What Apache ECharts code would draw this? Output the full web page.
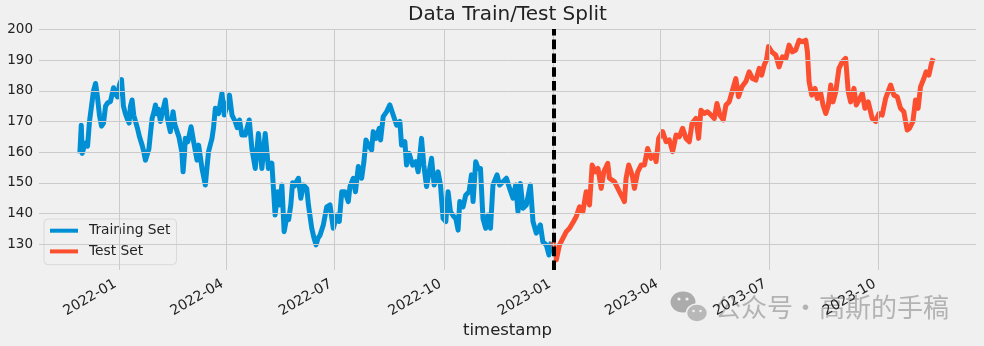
<!DOCTYPE html>
<html><head><meta charset="utf-8">
<script src="https://cdn.jsdelivr.net/npm/echarts@6/dist/echarts.min.js"></script>
<style>html,body{margin:0;padding:0;background:#f0f0f0}#c{width:984px;height:346px}</style>
</head><body><div id="c"></div>
<script>
// days since 2022-01-01
const trainDays = [-32.7,-31.5,-30.7,-29.3,-27.9,-26.2,-24.6,-22.9,-21.2,-19.5,-17.9,-16.2,-14.5,-12.8,-11.1,-9.5,-7.0,-4.4,-2.8,-1.1,0.6,2.3,3.9,5.6,7.0,8.7,9.8,11.2,12.6,14.0,15.7,17.4,19.6,21.1,22.4,23.8,25.3,26.6,28.0,29.5,30.8,32.0,33.3,35.0,36.6,39.1,40.8,43.3,45.6,47.1,49.0,50.5,51.7,53.0,54.0,55.1,55.9,58.0,60.7,62.9,65.7,67.1,69.9,72.7,74.1,75.4,78.3,79.6,81.1,83.8,86.7,88.6,90.9,93.0,95.1,97.8,99.5,101.4,103.4,106.2,109.6,111.8,114.6,117.3,120.2,123.0,125.7,128.6,130.1,131.3,133.6,135.1,137.0,138.9,141.2,142.7,144.5,146.0,147.7,149.4,150.9,152.9,155.1,157.9,159.3,162.1,164.0,165.7,167.4,169.1,171.8,174.7,177.4,180.2,183.1,185.2,187.3,190.0,192.8,194.2,197.0,198.8,201.2,204.0,205.9,207.6,209.6,212.4,213.7,216.0,218.8,219.9,222.1,225.0,227.7,230.5,233.4,236.1,237.5,240.3,241.7,243.9,246.8,249.5,251.5,254.3,256.2,258.5,260.7,262.7,264.9,268.2,270.2,272.4,274.7,276.6,278.6,281.4,283.1,285.0,286.4,289.2,291.4,294.2,296.2,297.6,299.8,301.8,303.8,305.9,308.2,310.1,312.2,314.3,317.7,319.9,322.7,325.6,328.3,331.1,333.4,335.3,337.3,339.5,342.3,345.7,347.9,350.7,354.1,356.2,359.1,361.3,363.3];
const trainValues = [159.6,168.8,159.6,161.5,163,162,170,175,180,182.4,178,172,168.5,169.5,175,176,176.5,181,179,178,182,183.7,175,172.5,171,169.5,175,177,172,172,167.8,165,162.3,160,157.4,158,161,166,171,173,175.4,172.5,174,170,173,177,171,166.7,173.2,169,166.7,165,164.5,160,153.6,159,164.5,163.4,168.3,163.4,157.4,162.3,154.7,149.3,155,160.2,164.5,168,174.3,172.6,179.2,172.1,175,178.6,172.1,170,168,170.5,165.6,165.6,170.5,161.2,154.7,166.1,154.7,166.1,154.7,156.4,147,139.5,147.1,142.8,149.3,134.1,139,138,142.8,150,149,150.5,151.5,145,149.3,148.2,142.8,135.2,132,129.8,132,133,136.3,142.2,142.8,135.2,139.5,137.4,147.1,147.1,143.9,148.8,151.5,147.1,155.3,151.5,156.9,164,162.3,160.7,166.7,164.5,167.8,164,171.6,173.2,175.4,172.1,168.8,170,162.3,163.4,155.8,159.6,155.8,156.9,153.6,164.5,155.8,148.8,153.6,158,149.3,153.6,149.3,138.4,137.4,147.1,140.6,139,138.4,134.6,143.9,142.2,146,147.1,152.6,143.9,156.9,154.7,154.7,138.4,135.2,139.5,135.2,149.3,152.6,149.3,150.4,151.5,148.2,145,149.3,140.6,149.8,141.7,142.8,149.3,137.4,133.6,136.3,130.8,129.8,126.5,130.8];
const testDays = [364.6,365.2,367.5,370.2,373.0,375.9,378.6,382.0,384.2,387.0,389.8,392.6,395.4,397.6,400.4,402.5,405.2,407.4,410.7,412.1,416.3,420.5,423.3,424.7,426.1,428.3,431.2,433.1,435.9,438.7,441.5,444.2,447.1,449.9,451.3,453.5,456.8,459.7,462.4,465.2,468.1,470.8,473.6,476.4,479.2,481.5,484.8,487.0,489.0,491.8,494.5,497.4,500.2,502.4,504.9,507.7,510.0,512.7,515.5,518.3,520.5,523.4,526.7,529.5,532.3,535.1,537.9,540.0,542.1,544.0,545.7,548.5,551.9,554.6,557.4,560.3,563.0,565.8,568.6,571.4,574.2,577.0,578.4,579.8,582.0,584.8,586.7,589.6,591.5,593.8,596.0,598.0,599.9,602.2,604.9,607.7,610.5,612.7,614.7,617.5,619.4,621.7,624.5,626.7,629.5,632.8,635.7,638.5,641.2,644.1,648.3,651.0,653.8,656.6,659.4,662.2,664.2,667.0,669.2,671.4,673.4,676.2,678.1,680.4,682.6,684.0];
const testValues = [130.8,129.8,124.9,129.8,131.9,134.1,135.2,137.4,139,142.2,140.6,147.1,142.8,155.8,153.6,154.7,148.2,153.6,156.4,151.5,150.4,147.1,145,143.9,151.5,155.8,152.6,148.2,153.6,155.8,155.8,161.2,158,159.1,156.9,164.5,166.7,163.4,164,160.2,165.6,165,167.8,164.5,163.4,169.4,171,164.5,173.7,172.6,173.2,172.1,171,175.9,172.1,170.5,175.4,176.4,180.2,184,178.1,181.3,183,186.2,184,183.5,187.3,185.1,188.4,190,194.4,192.7,191.6,187.8,191.1,190.6,194.9,192.7,193.3,196.5,196,196.5,192.7,183,178.6,180.8,177.5,179.2,175.4,172.6,175.4,181.9,176.4,179.7,187.3,189.5,190.6,179.7,176.4,180.8,175.4,177,179.2,174.3,176.4,171,170,172.6,172.1,177.5,181.9,178.6,178.1,174.3,173.2,167.2,167.8,170,177,174.3,181.3,184,186.2,185.1,188.9,190.6];
const xTickLabels = ['2022-01','2022-04','2022-07','2022-10','2023-01','2023-04','2023-07','2023-10'];
const yTickValues = [130,140,150,160,170,180,190,200];
const seriesNames = ['Training Set','Test Set'];
const splitDate = '2023-01-01';

const DAY = 86400000, BASE = Date.UTC(2022,0,1);
const toTs = d => BASE + d * DAY;
const ym = s => Date.UTC(+s.slice(0,4), +s.slice(5,7) - 1, 1);
const xTicks = xTickLabels.map(ym);
const splitTs = Date.UTC(+splitDate.slice(0,4), +splitDate.slice(5,7) - 1, +splitDate.slice(8,10));
const fmt = v => { const d = new Date(v); return d.getUTCFullYear() + '-' + String(d.getUTCMonth() + 1).padStart(2, '0'); };
const FONT = 'DejaVu Sans';
const GRID = '#cbcbcb';

const chart = echarts.init(document.getElementById('c'), null, {renderer: 'canvas'});
chart.setOption({
  backgroundColor: '#f0f0f0',
  animation: false,
  textStyle: {fontFamily: FONT},
  grid: {left: 39, right: 8, top: 29, bottom: 76, containLabel: false, outerBoundsMode: 'none'},
  legend: {
    left: 44, top: 219, orient: 'vertical',
    itemWidth: 28, itemHeight: 4, itemGap: 4.7,
    padding: [3.7, 6, 5.3, 6],
    backgroundColor: 'rgba(240,240,240,0.8)', borderColor: '#d9d9d9', borderWidth: 1, borderRadius: 4,
    textStyle: {fontFamily: FONT, fontSize: 13.8, color: '#222', lineHeight: 16, padding: [0, 0, 0, 6]},
    data: [{name: seriesNames[0], icon: 'rect'}, {name: seriesNames[1], icon: 'rect'}]
  },
  xAxis: {
    type: 'value',
    min: Date.UTC(2021, 9, 26), max: Date.UTC(2023, 11, 22),
    axisLine: {show: false},
    axisTick: {show: false, customValues: xTicks},
    axisLabel: {customValues: xTicks, formatter: fmt, rotate: 30, margin: 11, padding: [0, 4, 0, 0], fontSize: 14, color: '#222', fontFamily: FONT},
    splitLine: {show: false}
  },
  yAxis: {
    type: 'value',
    min: 121.6, max: 200.15,
    axisLine: {show: false},
    axisTick: {show: false, customValues: yTickValues},
    axisLabel: {customValues: yTickValues, margin: 6, fontSize: 13.5, color: '#222', fontFamily: FONT},
    splitLine: {show: false}
  },
  graphic: [
    {type: 'text', x: 507.5, y: 14.8, z: 10, style: {text: 'Data Train/Test Split', font: '20px "DejaVu Sans"', fill: '#222', textAlign: 'center', textVerticalAlign: 'middle'}},
    {type: 'text', x: 507.5, y: 330.5, z: 10, style: {text: 'timestamp', font: '16.5px "DejaVu Sans"', fill: '#222', textAlign: 'center', textVerticalAlign: 'middle'}},
    {type: 'ellipse', z: -1, shape: {cx: 683, cy: 302, rx: 12.5, ry: 10.5}, style: {fill: '#ababab'}},
    {type: 'ellipse', z: -1, shape: {cx: 697, cy: 313, rx: 10.5, ry: 9}, style: {fill: '#b8b8b8', stroke: '#f0f0f0', lineWidth: 1.5}},
    {type: 'circle', z: -1, shape: {cx: 679, cy: 299, r: 1.6}, style: {fill: '#f0f0f0'}},
    {type: 'circle', z: -1, shape: {cx: 687, cy: 299, r: 1.6}, style: {fill: '#f0f0f0'}},
    {type: 'circle', z: -1, shape: {cx: 693.5, cy: 311, r: 1.3}, style: {fill: '#f0f0f0'}},
    {type: 'circle', z: -1, shape: {cx: 700.5, cy: 311, r: 1.3}, style: {fill: '#f0f0f0'}},
    {type: 'text', x: 715, y: 307, z: -1, style: {text: '公众号', font: '26px "Noto Sans CJK SC"', fill: '#b3b3b3', textAlign: 'left', textVerticalAlign: 'middle'}},
    {type: 'text', x: 805.5, y: 307, z: -1, style: {text: '·', font: '26px "Noto Sans CJK SC"', fill: '#b3b3b3', textAlign: 'center', textVerticalAlign: 'middle'}},
    {type: 'text', x: 819, y: 307, z: -1, style: {text: '高斯的手稿', font: '26px "Noto Sans CJK SC"', fill: '#b3b3b3', textAlign: 'left', textVerticalAlign: 'middle'}}
  ],
  series: [
    {
      name: '__grid', type: 'line', data: [], z: 1, silent: true,
      markLine: {
        silent: true, symbol: ['none', 'none'], label: {show: false}, animation: false,
        lineStyle: {color: GRID, width: 1, type: 'solid'},
        data: yTickValues.map(v => ({yAxis: v})).concat(xTicks.map(v => ({xAxis: v})))
      }
    },
    {
      name: seriesNames[0], type: 'line', symbol: 'none', showSymbol: false, z: 3,
      itemStyle: {color: '#008fd5'},
      lineStyle: {color: '#008fd5', width: 5, join: 'round'},
      data: trainDays.map((d, i) => [toTs(d), trainValues[i]])
    },
    {
      name: seriesNames[1], type: 'line', symbol: 'none', showSymbol: false, z: 4,
      itemStyle: {color: '#fc4f30'},
      lineStyle: {color: '#fc4f30', width: 5, join: 'round'},
      data: testDays.map((d, i) => [toTs(d), testValues[i]]),
      markLine: {
        silent: true, symbol: ['none', 'none'], label: {show: false},
        lineStyle: {color: '#000', width: 4, type: [9.6, 4.2]},
        data: [{xAxis: splitTs}]
      }
    }
  ]
});
</script></body></html>
